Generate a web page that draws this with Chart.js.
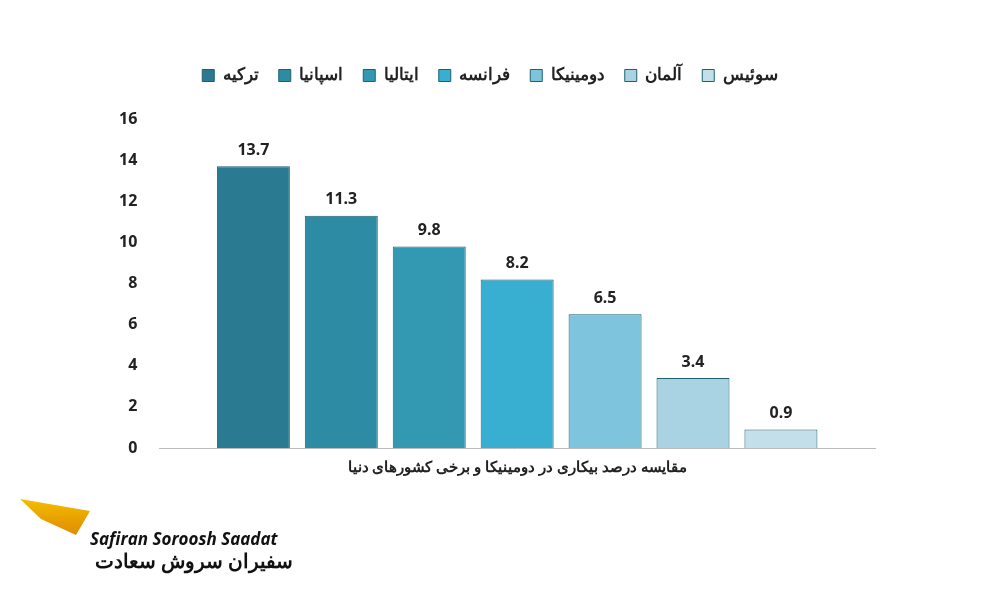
<!DOCTYPE html>
<html><head><meta charset="utf-8">
<script src="https://cdn.jsdelivr.net/npm/chart.js@4"></script>
<style>
body{margin:0;background:#fff;font-family:"Noto Sans",sans-serif}
#wrap{position:relative;width:1000px;height:600px}
#logo{position:absolute;left:20px;top:495px;width:280px;height:90px}
#logo .en{position:absolute;left:70px;top:32px;font:bold italic 17px "Open Sans";color:#111}
#logo .fa{position:absolute;left:75px;top:52px;font:bold 20px "Noto Sans";color:#111;direction:rtl}
#logo .wing{position:absolute;left:0;top:0;width:70px;height:40px;background:linear-gradient(#f6c400,#e08a00);clip-path:polygon(0 10%,100% 40%,80% 100%,30% 60%);}
</style></head><body>
<div id="wrap"><canvas id="c" width="1000" height="600"></canvas>
<div id="logo"><div class="wing"></div><div class="en">Safiran Soroosh Saadat</div><div class="fa">سفیران سروش سعادت</div></div></div>
<script>
const countries=["ترکیه","اسپانیا","ایتالیا","فرانسه","دومینیکا","آلمان","سوئیس"];
const values=[13.7,11.3,9.8,8.2,6.5,3.4,0.9];
const colors=["#2a7b91","#2e8ba4","#3399b3","#38aed0","#7ec4dc","#a9d3e3","#c3dfea"];
const yTicks=[0,2,4,6,8,10,12,14,16];
const axisTitle="مقایسه درصد بیکاری در دومینیکا و برخی کشورهای دنیا";
const labelPlugin={id:"lbl",afterDatasetsDraw(ch){const x=ch.ctx;x.save();x.font="bold 16px 'Noto Sans'";x.fillStyle="#222";x.textAlign="center";x.textBaseline="bottom";
ch.data.datasets.forEach((d,i)=>{const el=ch.getDatasetMeta(i).data[0];x.fillText(d.data[0].toFixed(1),el.x,el.y-8);});x.restore();}};
const legendMargin={id:"lm",beforeInit(ch){const f=ch.legend.fit;ch.legend.fit=function(){f.bind(ch.legend)();this.height+=25;};}};
new Chart(document.getElementById("c"),{type:"bar",
data:{labels:[axisTitle],datasets:countries.map((c,i)=>({label:c,data:[values[i]],backgroundColor:colors[i],borderColor:"#1f5f70",borderWidth:1}))},
options:{responsive:false,animation:false,layout:{padding:{left:105,right:125,top:47,bottom:120}},
plugins:{legend:{labels:{boxWidth:12,boxHeight:12,font:{size:17,weight:"bold",family:"Noto Sans"},color:"#222",padding:20}},tooltip:{enabled:false}},
datasets:{bar:{categoryPercentage:0.86,barPercentage:0.83}},
scales:{x:{grid:{display:false},border:{color:"#bbb"},ticks:{font:{size:15,weight:"bold",family:"Noto Sans"},color:"#222"}},
y:{min:0,max:16,afterBuildTicks:a=>{a.ticks=yTicks.map(v=>({value:v}))},grid:{display:false},border:{display:false},ticks:{font:{size:16,weight:"bold",family:"Noto Sans"},color:"#222",padding:14}}}},
plugins:[labelPlugin,legendMargin]});
</script></body></html>
